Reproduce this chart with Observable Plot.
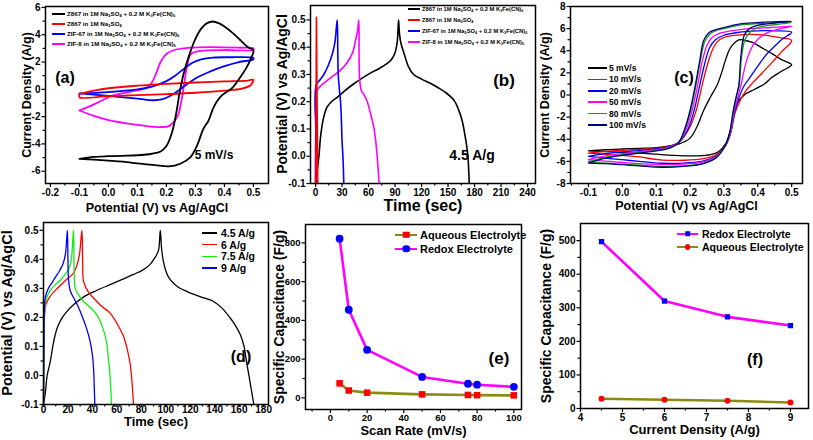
<!DOCTYPE html>
<html><head><meta charset="utf-8">
<script src="https://cdn.jsdelivr.net/npm/d3@7"></script>
<script src="https://cdn.jsdelivr.net/npm/@observablehq/plot@0.6"></script>
<style>
body{margin:0;background:#fff;}
#fig{position:relative;width:813px;height:440px;overflow:hidden;background:#fff;font-family:"Liberation Sans",Arial,Helvetica,sans-serif;font-weight:bold;color:#000;}
.lg{position:absolute;white-space:nowrap;display:flex;align-items:center;}
.lg .sw{display:inline-block;position:relative;flex:none;}
.lg .mk{position:absolute;left:50%;top:50%;transform:translate(-50%,-50%);}
.lg sub{font-size:65%;vertical-align:-0.25em;line-height:0;}
.ann{position:absolute;white-space:nowrap;transform:translate(-50%,-50%);line-height:1;}
.yt{position:absolute;white-space:nowrap;transform:translate(-50%,-50%) rotate(-90deg);line-height:1;}
</style></head><body><div id="fig"></div>
<script>
// ---------------- DATA ----------------
// (a) CV at 5 mV/s  [potential V, current A/g]
const a_black = [[-0.1,-5.09],[-0.05,-4.95],[0.0,-4.9],[0.05,-4.87],[0.1,-4.83],[0.15,-4.72],[0.18,-4.55],[0.2,-4.15],[0.22,-3.1],[0.235,-1.6],[0.245,-0.3],[0.26,1.2],[0.28,2.6],[0.30,3.7],[0.32,4.45],[0.34,4.85],[0.36,4.97],[0.38,4.85],[0.40,4.6],[0.43,4.1],[0.46,3.5],[0.48,3.1],[0.5,2.85],
  [0.49,2.2],[0.477,1.63],[0.455,0.9],[0.43,0.17],[0.386,-0.56],[0.363,-1.3],[0.345,-2.3],[0.328,-2.87],[0.306,-4.1],[0.283,-4.97],[0.248,-5.45],[0.208,-5.65],[0.16,-5.55],[0.11,-5.45],[0.05,-5.3],[0.0,-5.22],[-0.05,-5.15],[-0.1,-5.09]];
const a_red = [[-0.1,-0.35],[-0.05,-0.1],[0.0,0.08],[0.1,0.27],[0.2,0.4],[0.3,0.5],[0.4,0.58],[0.48,0.64],[0.5,0.7],[0.49,0.3],[0.46,0.05],[0.4,-0.1],[0.3,-0.25],[0.2,-0.35],[0.1,-0.43],[0.0,-0.5],[-0.1,-0.58],[-0.1,-0.35]];
const a_blue = [[-0.1,-0.3],[0.0,-0.2],[0.1,0.0],[0.15,0.2],[0.2,0.6],[0.23,1.0],[0.26,1.5],[0.29,1.95],[0.32,2.2],[0.36,2.33],[0.42,2.35],[0.5,2.3],
  [0.5,2.2],[0.45,2.0],[0.4,1.7],[0.35,1.3],[0.3,0.8],[0.26,0.2],[0.22,-0.4],[0.19,-0.7],[0.156,-0.8],[0.1,-0.68],[0.0,-0.48],[-0.1,-0.3]];
const a_magenta = [[-0.1,-1.55],[-0.05,-1.1],[0.017,-0.45],[0.08,-0.15],[0.13,0.1],[0.15,0.5],[0.165,1.2],[0.18,2.0],[0.2,2.6],[0.23,2.9],[0.28,3.05],[0.35,3.1],[0.45,3.05],[0.5,3.0],
  [0.5,2.9],[0.4,2.88],[0.32,2.82],[0.285,2.6],[0.272,1.8],[0.262,0.5],[0.252,-0.8],[0.24,-1.9],[0.225,-2.4],[0.208,-2.7],[0.168,-2.77],[0.1,-2.6],[0.0,-2.25],[-0.05,-1.95],[-0.1,-1.55]];

// (b) GCD at 4.5 A/g  [time s, potential V]
const b_black = [[0.5,-0.1],[2,-0.05],[3.8,0.0],[6,0.08],[9,0.14],[13,0.18],[18,0.2],[24.5,0.216],[33,0.24],[43,0.265],[52,0.285],[62,0.305],[72,0.322],[80,0.338],[86,0.355],[90,0.38],[92.5,0.42],[94,0.5],[95,0.45],[97,0.41],[100,0.38],[105,0.33],[111,0.3],[120,0.283],[130,0.268],[138,0.253],[148,0.232],[157,0.204],[162,0.17],[166,0.13],[169,0.08],[171,0.04],[172.5,0.0],[174,-0.1]];
const b_red = [[0.3,-0.1],[0.7,0.2],[1.0,0.51],[1.5,0.3],[2.5,-0.1]];
const b_blue = [[0,-0.1],[0.3,0.1],[0.8,0.262],[5,0.28],[9.4,0.3],[14,0.33],[19,0.375],[22,0.42],[24.5,0.5],[25.2,0.38],[25.7,0.3],[27,0.245],[28.3,0.2],[29.3,0.13],[30,0.057],[31,0.0],[32,-0.1]];
const b_magenta = [[0,-0.1],[0.3,0.1],[0.8,0.235],[5,0.255],[12,0.275],[20,0.295],[28,0.315],[36,0.345],[42,0.38],[45,0.42],[47.5,0.46],[49,0.5],[49.3,0.36],[50,0.28],[52,0.24],[55,0.225],[58.6,0.2],[62,0.16],[66,0.106],[68,0.06],[69.5,0.01],[72,-0.1]];

// (c) CV at different scan rates  [potential V, current A/g]
const c_5 = [[-0.1,-5.05],[-0.05,-4.95],[0.0,-4.88],[0.05,-4.82],[0.1,-4.75],[0.14,-4.6],[0.17,-4.4],[0.2,-3.9],[0.22,-2.9],[0.24,-1.4],[0.26,-0.2],[0.28,0.9],[0.295,2.2],[0.305,3.2],[0.32,4.3],[0.344,4.99],[0.36,4.95],[0.384,4.75],[0.41,4.3],[0.443,3.72],[0.47,3.2],[0.5,2.73],
  [0.47,2.15],[0.44,1.55],[0.42,1.0],[0.39,0.5],[0.36,0.0],[0.34,-0.7],[0.33,-1.6],[0.318,-3.3],[0.305,-4.4],[0.285,-5.1],[0.26,-5.4],[0.22,-5.5],[0.15,-5.45],[0.1,-5.35],[0.05,-5.25],[0.0,-5.18],[-0.05,-5.12],[-0.1,-5.05]];
const c_10 = [[-0.1,-5.25],[-0.05,-5.1],[0.0,-5.0],[0.05,-4.92],[0.1,-4.82],[0.14,-4.6],[0.166,-4.3],[0.198,-3.0],[0.218,-1.4],[0.235,0.8],[0.25,2.6],[0.265,4.0],[0.28,4.8],[0.3,5.2],[0.34,5.42],[0.38,5.48],[0.42,5.42],[0.46,5.2],[0.5,4.93],
  [0.47,3.9],[0.443,2.97],[0.41,1.9],[0.385,1.1],[0.365,0.4],[0.348,-0.5],[0.333,-1.6],[0.32,-3.4],[0.306,-4.5],[0.28,-5.35],[0.24,-5.75],[0.18,-5.9],[0.118,-5.88],[0.05,-5.6],[0.0,-5.45],[-0.05,-5.35],[-0.1,-5.25]];
const c_20 = [[-0.1,-5.55],[-0.05,-5.3],[0.0,-5.15],[0.05,-5.02],[0.1,-4.88],[0.14,-4.65],[0.166,-4.3],[0.195,-3.0],[0.212,-1.4],[0.228,0.8],[0.243,2.8],[0.258,4.3],[0.275,5.0],[0.3,5.4],[0.34,5.65],[0.4,5.8],[0.45,5.8],[0.5,5.68],
  [0.47,5.0],[0.443,4.2],[0.423,3.57],[0.4,2.6],[0.375,1.5],[0.36,0.86],[0.345,-0.2],[0.332,-1.5],[0.32,-3.4],[0.306,-4.5],[0.28,-5.45],[0.24,-5.95],[0.18,-6.15],[0.118,-6.17],[0.05,-6.0],[0.0,-5.85],[-0.05,-5.7],[-0.1,-5.55]];
const c_50 = [[-0.1,-5.85],[-0.05,-5.5],[0.0,-5.3],[0.05,-5.12],[0.1,-4.95],[0.14,-4.7],[0.166,-4.3],[0.19,-3.0],[0.206,-1.4],[0.222,0.8],[0.235,2.9],[0.25,4.5],[0.265,5.2],[0.285,5.55],[0.32,5.8],[0.38,6.0],[0.44,6.1],[0.5,6.22],
  [0.46,5.95],[0.42,5.5],[0.39,4.7],[0.37,3.4],[0.358,2.0],[0.35,0.86],[0.34,-0.3],[0.33,-1.5],[0.32,-3.4],[0.306,-4.5],[0.28,-5.5],[0.24,-6.05],[0.18,-6.25],[0.118,-6.3],[0.05,-6.2],[0.0,-6.1],[-0.05,-5.98],[-0.1,-5.85]];
const c_80 = [[-0.1,-6.05],[-0.05,-5.65],[0.0,-5.4],[0.05,-5.2],[0.1,-5.0],[0.14,-4.75],[0.166,-4.3],[0.186,-3.0],[0.202,-1.4],[0.217,0.8],[0.23,3.0],[0.243,4.8],[0.258,5.5],[0.275,5.8],[0.3,6.0],[0.344,6.3],[0.42,6.48],[0.5,6.55],
  [0.45,6.35],[0.4,6.1],[0.378,5.7],[0.362,5.0],[0.352,3.4],[0.345,0.9],[0.336,-0.3],[0.328,-1.5],[0.318,-3.4],[0.305,-4.5],[0.28,-5.55],[0.24,-6.15],[0.18,-6.4],[0.118,-6.47],[0.05,-6.35],[0.0,-6.25],[-0.05,-6.15],[-0.1,-6.05]];
const c_100 = [[-0.1,-6.15],[-0.05,-5.7],[0.0,-5.45],[0.05,-5.25],[0.1,-5.05],[0.14,-4.8],[0.166,-4.3],[0.185,-3.0],[0.2,-1.4],[0.215,0.8],[0.228,3.0],[0.24,4.9],[0.255,5.6],[0.27,5.85],[0.3,6.1],[0.344,6.4],[0.42,6.58],[0.5,6.67],
  [0.45,6.5],[0.4,6.3],[0.375,6.0],[0.36,5.4],[0.35,3.5],[0.344,0.9],[0.335,-0.3],[0.327,-1.5],[0.317,-3.4],[0.305,-4.5],[0.28,-5.6],[0.24,-6.2],[0.18,-6.45],[0.118,-6.53],[0.05,-6.4],[0.0,-6.3],[-0.05,-6.2],[-0.1,-6.15]];

// (d) GCD at different current densities  [time s, potential V]
const d_45 = [[0,-0.1],[1.5,-0.06],[3,0.0],[5.5,0.047],[8,0.11],[10.9,0.16],[14,0.19],[19,0.22],[25,0.245],[32.7,0.27],[43,0.292],[54.5,0.313],[64,0.33],[73.6,0.348],[81,0.363],[87,0.382],[91,0.405],[94,0.43],[95.5,0.5],[96.5,0.44],[98,0.394],[100.5,0.355],[103.6,0.33],[110,0.305],[117,0.29],[128,0.272],[139,0.255],[146,0.232],[152.7,0.198],[157,0.172],[161,0.14],[164,0.1],[166,0.048],[168,0.0],[170,-0.05],[172,-0.1]];
const d_6 = [[0,-0.1],[0.3,0.1],[0.8,0.2],[2,0.245],[5,0.27],[10,0.295],[15,0.315],[20,0.335],[24,0.35],[27,0.375],[29.5,0.42],[31.4,0.5],[32,0.4],[32.7,0.325],[35,0.3],[38,0.28],[41,0.267],[47,0.24],[54.5,0.215],[60,0.18],[65.5,0.134],[68.5,0.09],[71,0.036],[72.5,-0.03],[73.6,-0.1]];
const d_75 = [[0,-0.1],[0.3,0.1],[0.8,0.22],[2,0.26],[5,0.29],[9,0.31],[14,0.33],[18,0.35],[21,0.37],[23,0.41],[24.5,0.5],[25,0.38],[26,0.3],[29,0.275],[32.7,0.255],[38,0.235],[43.6,0.21],[48,0.17],[51.5,0.117],[53,0.06],[54,0.02],[55,-0.04],[55.5,-0.1]];
const d_9 = [[0,-0.1],[0.3,0.1],[0.7,0.23],[1.5,0.27],[4,0.3],[7,0.32],[10,0.34],[13,0.36],[16,0.385],[18,0.42],[19.5,0.5],[20,0.4],[20.5,0.33],[22,0.29],[25,0.265],[28,0.24],[32,0.2],[35,0.165],[38,0.12],[40,0.07],[41,0.02],[41.5,-0.04],[42,-0.1]];

// (e) specific capacitance vs scan rate
const e_scanRate = [5, 10, 20, 50, 75, 80, 100];
const e_aqueous = [75, 38, 27, 18, 15, 14, 13];
const e_redox = [822, 455, 248, 108, 73, 68, 57];

// (f) specific capacitance vs current density
const f_current = [4.5, 6, 7.5, 9];
const f_redox = [497, 320, 273, 247];
const f_aqueous = [29, 26, 23, 18];

// ticks
const a_xt = [-0.2,-0.1,0,0.1,0.2,0.3,0.4,0.5], a_xm = [-0.15,-0.05,0.05,0.15,0.25,0.35,0.45];
const a_yt = [-6,-4,-2,0,2,4,6], a_ym = [-5,-3,-1,1,3,5];
const b_xt = [0,30,60,90,120,150,180,210,240], b_xm = [15,45,75,105,135,165,195,225];
const b_yt = [-0.1,0,0.1,0.2,0.3,0.4,0.5], b_ym = [-0.05,0.05,0.15,0.25,0.35,0.45];
const c_xt = [-0.1,0,0.1,0.2,0.3,0.4,0.5], c_xm = [-0.15,-0.05,0.05,0.15,0.25,0.35,0.45];
const c_yt = [-8,-6,-4,-2,0,2,4,6,8], c_ym = [-7,-5,-3,-1,1,3,5,7];
const d_xt = [0,20,40,60,80,100,120,140,160,180], d_xm = [10,30,50,70,90,110,130,150,170];
const d_yt = [-0.1,0,0.1,0.2,0.3,0.4,0.5], d_ym = [-0.05,0.05,0.15,0.25,0.35,0.45];
const e_xt = [0,20,40,60,80,100], e_xm = [-10,10,30,50,70,90];
const e_yt = [0,200,400,600,800], e_ym = [100,300,500,700];
const f_xt = [4,5,6,7,8,9], f_xm = [4.5,5.5,6.5,7.5,8.5];
const f_yt = [0,100,200,300,400,500], f_ym = [50,150,250,350,450];

// legend labels
const NA = "Na<sub>2</sub>SO<sub>4</sub>", KF = "K<sub>3</sub>Fe(CN)<sub>6</sub>";
const ab_labels = ["Z867 in 1M " + NA + " + 0.2 M " + KF, "Z867 in 1M " + NA, "ZIF-67 in 1M " + NA + " + 0.2 M " + KF, "ZIF-8 in 1M " + NA + " + 0.2 M " + KF];
const c_labels = ["5 mV/s", "10 mV/s", "20 mV/s", "50 mV/s", "80 mV/s", "100 mV/s"];
const d_labels = ["4.5 A/g", "6 A/g", "7.5 A/g", "9 A/g"];

// ---------------- DRAWING ----------------
const fig = document.getElementById("fig");
const FONT = "'Liberation Sans', Arial, Helvetica, sans-serif";
const BLACK = "#000", RED = "#ff0000", BLUE = "#0000ff", MAG = "#ff00ff", GRN_C = "#1a9a1a", NAVY = "#000080", GRN_D = "#11ee11", OLIVE = "#8b8b12";
const fx = d => d[0], fy = d => d[1];
const fmt1 = d => d.toFixed(1), fmt0 = d => String(d);

function build(p) {
  const svg = Plot.plot({
    width: p.w, height: p.h,
    marginLeft: p.ml, marginRight: p.mr, marginTop: p.mt, marginBottom: p.mb,
    style: {fontFamily: FONT, fontWeight: "bold", fontSize: (p.tfs ?? 10) + "px", color: "#000", background: "none", overflow: "visible"},
    x: {domain: p.xd}, y: {domain: p.yd},
    marks: [
      ...p.marks,
      Plot.frame({stroke: "#000", strokeWidth: 1.5}),
      Plot.axisX(p.xm, {tickSize: 2.5, tickFormat: () => "", label: null, strokeWidth: 1.2}),
      Plot.axisX(p.xt, {tickSize: p.xts ?? 4, tickPadding: p.xtp ?? 1, tickFormat: p.xf, label: null, strokeWidth: 1.2}),
      Plot.axisY(p.ym, {tickSize: 2.5, tickFormat: () => "", label: null, strokeWidth: 1.2}),
      Plot.axisY(p.yt, {tickSize: 3.5, tickPadding: 1.5, tickFormat: p.yf, label: null, strokeWidth: 1.2}),
      Plot.text([p.xlab], {text: d => d, frameAnchor: "bottom", dy: p.xdy, lineAnchor: "middle", fontSize: p.xfs})
    ]
  });
  svg.style.position = "absolute";
  svg.style.left = p.left + "px";
  svg.style.top = p.top + "px";
  fig.appendChild(svg);
  const yt = document.createElement("div");
  yt.className = "yt";
  yt.style.left = p.ytx + "px";
  yt.style.top = (p.top + p.mt + (p.h - p.mt - p.mb) / 2) + "px";
  yt.style.fontSize = p.yfs + "px";
  yt.textContent = p.ylab;
  fig.appendChild(yt);
}
const L = (data, stroke, sw) => Plot.line(data, {x: fx, y: fy, stroke, strokeWidth: sw, curve: "catmull-rom"});

// (a)
build({left: 0, top: 0, w: 272, h: 220, ml: 45, mr: 4, mt: 6, mb: 37,
  xd: [-0.217, 0.552], yd: [-6.9, 6.07], xt: a_xt, xm: a_xm, yt: a_yt, ym: a_ym, xf: fmt1, yf: fmt0,
  xlab: "Potential (V) vs Ag/AgCl", xdy: 24, xfs: 12.5, ylab: "Current Density (A/g)", ytx: 27, yfs: 12.5,
  marks: [L(a_magenta, MAG, 1.8), L(a_blue, BLUE, 1.8), L(a_red, RED, 1.8), L(a_black, BLACK, 1.8)]});
// (b)
build({left: 272, top: 0, w: 268, h: 220, ml: 38, mr: 5, mt: 5, mb: 37,
  xd: [-5.7, 249], yd: [-0.1, 0.553], xt: b_xt, xm: b_xm, yt: b_yt, ym: b_ym, xf: fmt0, yf: fmt1,
  xlab: "Time (sec)", xdy: 22, xfs: 16, ylab: "Potential (V) vs Ag/AgCl", ytx: 282, yfs: 14,
  marks: [L(b_black, BLACK, 1.6), L(b_magenta, MAG, 1.6), L(b_blue, BLUE, 1.6), L(b_red, RED, 1.6)]});
// (c)
build({left: 540, top: 0, w: 273, h: 220, ml: 30, mr: 11, mt: 6, mb: 37,
  xd: [-0.153, 0.532], yd: [-8, 8], xt: c_xt, xm: c_xm, yt: c_yt, ym: c_ym, xf: fmt1, yf: fmt0,
  xlab: "Potential (V) vs Ag/AgCl", xdy: 22, xfs: 12.5, ylab: "Current Density (A/g)", ytx: 545, yfs: 12.5,
  marks: [L(c_5, BLACK, 1.3), L(c_10, RED, 1.3), L(c_20, BLUE, 1.3), L(c_50, MAG, 1.3), L(c_80, GRN_C, 1.3), L(c_100, NAVY, 1.3)]});
// (d)
build({left: 0, top: 220, w: 272, h: 220, ml: 43, mr: 4, mt: 2, mb: 36,
  xd: [0, 184], yd: [-0.1, 0.527], xt: d_xt, xm: d_xm, yt: d_yt, ym: d_ym, xf: fmt0, yf: fmt1, xts: 3, xtp: -2,
  xlab: "Time (sec)", xdy: 17, xfs: 13, ylab: "Potential (V) vs Ag/AgCl", ytx: 7, yfs: 14.5,
  marks: [L(d_45, BLACK, 1.3), L(d_6, RED, 1.3), L(d_75, GRN_D, 1.3), L(d_9, BLUE, 1.3)]});
// (e)
const eAq = e_scanRate.map((x, i) => [x, e_aqueous[i]]);
const eRx = e_scanRate.map((x, i) => [x, e_redox[i]]);
build({left: 272, top: 220, w: 268, h: 220, ml: 33, mr: 19, mt: 4, mb: 31, tfs: 9.5,
  xd: [-13.6, 104.2], yd: [-60, 895], xt: e_xt, xm: e_xm, yt: e_yt, ym: e_ym, xf: fmt0, yf: fmt0,
  xlab: "Scan Rate (mV/s)", xdy: 21, xfs: 13, ylab: "Specific Capacitance (F/g)", ytx: 279, yfs: 14,
  marks: [
    Plot.line(eAq, {x: fx, y: fy, stroke: OLIVE, strokeWidth: 2.6}),
    Plot.line(eRx, {x: fx, y: fy, stroke: MAG, strokeWidth: 2.6}),
    Plot.dot(eAq, {x: fx, y: fy, symbol: "square", r: 3.7, fill: RED}),
    Plot.dot(eRx, {x: fx, y: fy, symbol: "circle", r: 3.9, fill: BLUE})]});
// (f)
const fRx = f_current.map((x, i) => [x, f_redox[i]]);
const fAq = f_current.map((x, i) => [x, f_aqueous[i]]);
build({left: 540, top: 220, w: 273, h: 220, ml: 40, mr: 5, mt: 3, mb: 32,
  xd: [4, 9.43], yd: [0, 551], xt: f_xt, xm: f_xm, yt: f_yt, ym: f_ym, xf: fmt0, yf: fmt0,
  xlab: "Current Density (A/g)", xdy: 21, xfs: 13, ylab: "Specific Capacitance (F/g)", ytx: 546, yfs: 14,
  marks: [
    Plot.line(fAq, {x: fx, y: fy, stroke: OLIVE, strokeWidth: 2.6}),
    Plot.line(fRx, {x: fx, y: fy, stroke: MAG, strokeWidth: 2.6}),
    Plot.dot(fRx, {x: fx, y: fy, symbol: "square", r: 3.0, fill: BLUE}),
    Plot.dot(fAq, {x: fx, y: fy, symbol: "circle", r: 3.0, fill: RED})]});

// ---------------- LEGENDS & ANNOTATIONS ----------------
function legend(items, o) {
  items.forEach((it, i) => {
    const row = document.createElement("div");
    row.className = "lg";
    const h = o.fs * 1.4;
    row.style.left = o.x + "px";
    row.style.top = (o.y + i * o.dy - h / 2) + "px";
    row.style.height = h + "px";
    row.style.fontSize = o.fs + "px";
    const sw = document.createElement("span");
    sw.className = "sw";
    sw.style.width = o.lw + "px";
    sw.style.height = o.lt + "px";
    sw.style.background = it.color;
    sw.style.marginRight = o.gap + "px";
    if (it.marker) {
      const m = document.createElement("span");
      m.className = "mk";
      m.style.width = it.size + "px";
      m.style.height = it.size + "px";
      m.style.background = it.mcolor;
      if (it.marker === "circle") m.style.borderRadius = "50%";
      sw.appendChild(m);
    }
    row.appendChild(sw);
    const t = document.createElement("span");
    t.innerHTML = it.label;
    row.appendChild(t);
    fig.appendChild(row);
  });
}
const abColors = [BLACK, RED, BLUE, MAG];
legend(ab_labels.map((l, i) => ({label: l, color: abColors[i]})), {x: 52, y: 14, dy: 10, lw: 13, lt: 2, gap: 2, fs: 6.2});
legend(ab_labels.map((l, i) => ({label: l, color: abColors[i]})), {x: 408, y: 9, dy: 11, lw: 12, lt: 2, gap: 2, fs: 5.8});
const cColors = [BLACK, RED, BLUE, MAG, GRN_C, NAVY];
legend(c_labels.map((l, i) => ({label: l, color: cColors[i]})), {x: 588, y: 68, dy: 11.4, lw: 19, lt: 1.5, gap: 2, fs: 8.5});
const dColors = [BLACK, RED, GRN_D, BLUE];
legend(d_labels.map((l, i) => ({label: l, color: dColors[i]})), {x: 202, y: 233, dy: 11.7, lw: 15, lt: 1.5, gap: 4, fs: 10.5});
legend([{label: "Aqueous Electrolyte", color: OLIVE, marker: "square", mcolor: RED, size: 6.5},
        {label: "Redox Electrolyte", color: MAG, marker: "circle", mcolor: BLUE, size: 7.5}],
       {x: 395, y: 235, dy: 14, lw: 22, lt: 2.5, gap: 3, fs: 11});
legend([{label: "Redox Electrolyte", color: MAG, marker: "square", mcolor: BLUE, size: 5.5},
        {label: "Aqueous Electrolyte", color: OLIVE, marker: "circle", mcolor: RED, size: 5.8}],
       {x: 677, y: 234, dy: 13, lw: 21, lt: 2.5, gap: 4, fs: 10.5});

const anns = [["(a)", 65, 78, 16], ["5 mV/s", 214, 155, 12], ["(b)", 504, 80, 17], ["4.5 A/g", 472, 155, 14],
  ["(c)", 684, 78, 16], ["(d)", 241, 357, 16], ["(e)", 499, 358, 17], ["(f)", 755, 360, 16]];
anns.forEach(([t, x, y, s]) => {
  const d = document.createElement("div");
  d.className = "ann";
  d.style.left = x + "px"; d.style.top = y + "px"; d.style.fontSize = s + "px";
  d.textContent = t;
  fig.appendChild(d);
});
</script></body></html>
